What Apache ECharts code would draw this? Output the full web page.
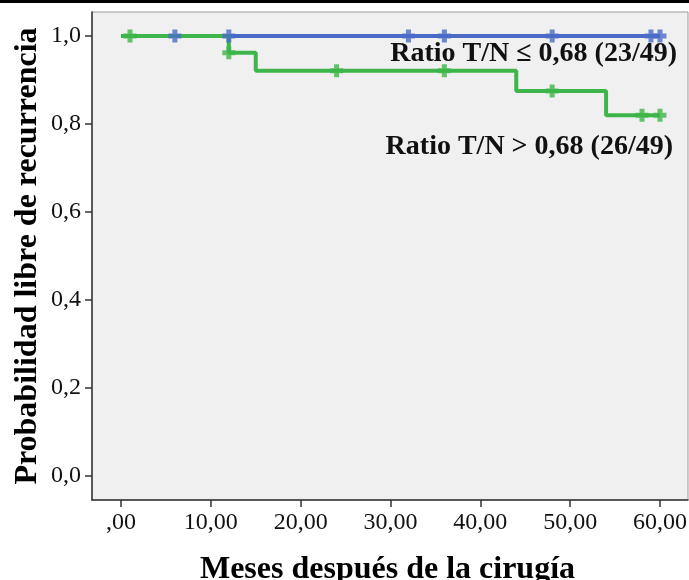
<!DOCTYPE html>
<html>
<head>
<meta charset="utf-8">
<script src="https://cdn.jsdelivr.net/npm/echarts@6/dist/echarts.min.js"></script>
<style>
  html, body { margin: 0; padding: 0; background: #ffffff; }
  #chart { width: 689px; height: 580px; }
</style>
</head>
<body>
<div id="chart"></div>
<script>
// Kaplan-Meier recurrence-free probability by T/N ratio group
const xTicks = [0, 10, 20, 30, 40, 50, 60];
const yTicks = [0, 0.2, 0.4, 0.6, 0.8, 1.0];

// Step curves: [month, survival]
const lowRatioCurve = [[0, 1.0], [60, 1.0]];
const highRatioCurve = [[0, 1.0], [12, 0.962], [15, 0.921], [44, 0.875], [54, 0.820], [60, 0.820]];

// Censored observations: [month, survival]
const lowRatioCensored = [[6, 1.0], [12, 1.0], [32, 1.0], [36, 1.0], [48, 1.0], [59, 1.0], [60, 1.0]];
const highRatioCensored = [[1, 1.0], [12, 0.962], [24, 0.921], [36, 0.921], [48, 0.875], [58, 0.820], [60, 0.820]];

const lowLabel = 'Ratio T/N \u2264 0,68 (23/49)';
const highLabel = 'Ratio T/N > 0,68 (26/49)';
const xTitle = 'Meses después de la cirugía';
const yTitle = 'Probabilidad libre de recurrencia';

const BLUE = '#4a6bc5';
const GREEN = '#3db54a';
const SERIF = '"Liberation Serif", "Times New Roman", serif';
const plusPath = 'path://M4,0 H9 V4 H13 V9 H9 V13 H4 V9 H0 V4 H4 Z';

const chart = echarts.init(document.getElementById('chart'), null, { renderer: 'canvas' });

chart.setOption({
  animation: false,
  backgroundColor: '#ffffff',
  grid: {
    left: 92, top: 12, right: 1, bottom: 80,
    containLabel: false,
    outerBoundsMode: 'none',
    show: true,
    backgroundColor: '#f0f0f0',
    borderColor: '#9a9a9a',
    borderWidth: 1
  },
  xAxis: {
    type: 'value',
    min: -3.23,
    max: 63.12,
    splitLine: { show: false },
    axisLine: { show: true, onZero: false, lineStyle: { color: '#333', width: 1.5 } },
    axisTick: { show: true, length: 7, customValues: xTicks, lineStyle: { color: '#333', width: 1.5 } },
    axisLabel: {
      customValues: xTicks,
      color: '#111',
      fontFamily: SERIF,
      fontSize: 24,
      margin: 11,
      formatter: v => v === 0 ? ',00' : v.toFixed(2).replace('.', ',')
    },
    name: xTitle,
    nameLocation: 'middle',
    nameGap: 54,
    nameMoveOverlap: false,
    nameTextStyle: { color: '#000', fontFamily: SERIF, fontSize: 32, fontWeight: 'bold', padding: [0, 0, 0, -5] }
  },
  yAxis: {
    type: 'value',
    min: -0.0545,
    max: 1.0545,
    splitLine: { show: false },
    axisLine: { show: true, onZero: false, lineStyle: { color: '#333', width: 1.5 } },
    axisTick: { show: true, length: 7, customValues: yTicks, lineStyle: { color: '#333', width: 1.5 } },
    axisLabel: {
      customValues: yTicks,
      color: '#111',
      fontFamily: SERIF,
      fontSize: 24,
      margin: 11,
      formatter: v => v.toFixed(1).replace('.', ',')
    },
    name: yTitle,
    nameLocation: 'middle',
    nameGap: 48,
    nameMoveOverlap: false,
    nameTextStyle: { color: '#000', fontFamily: SERIF, fontSize: 32, fontWeight: 'bold' }
  },
  series: [
    {
      type: 'line', step: 'end', data: lowRatioCurve, z: 2,
      showSymbol: false, lineStyle: { color: BLUE, width: 4 }
    },
    {
      type: 'line', step: 'end', data: highRatioCurve, z: 3,
      showSymbol: false, lineStyle: { color: GREEN, width: 4 }
    },
    {
      type: 'scatter', data: highRatioCensored, z: 4,
      symbol: plusPath, symbolSize: 13, itemStyle: { color: GREEN }
    },
    {
      type: 'scatter', data: lowRatioCensored, z: 5,
      symbol: plusPath, symbolSize: 13, itemStyle: { color: BLUE }
    }
  ],
  graphic: [
    { type: 'rect', left: 0, top: 0, shape: { width: 689, height: 3 }, style: { fill: '#000' }, z: 100 },
    {
      type: 'text', right: 12, top: 40, z: 100,
      style: { text: lowLabel, fill: '#111', font: 'bold 28px ' + SERIF }
    },
    {
      type: 'text', right: 16, top: 133, z: 100,
      style: { text: highLabel, fill: '#111', font: 'bold 28px ' + SERIF }
    }
  ]
});
</script>
</body>
</html>
